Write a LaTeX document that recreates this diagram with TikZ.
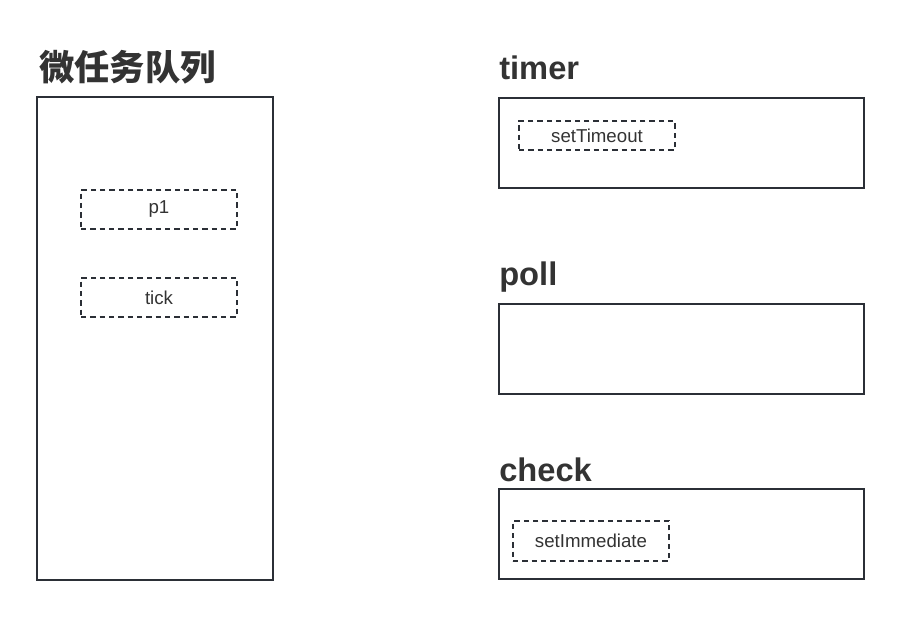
\documentclass[tikz,border=0pt]{standalone}
\usepackage{fontspec}
\setmainfont{Liberation Sans}
\newfontfamily\cjk{Noto Sans CJK SC}
\usetikzlibrary{positioning}
\definecolor{linegray}{HTML}{2B2F36}
\definecolor{textgray}{HTML}{333333}

\begin{document}
\begin{tikzpicture}[x=0.75pt, y=-0.75pt,
    queuebox/.style={draw=linegray, line width=1.5pt, inner sep=0pt},
    taskbox/.style={draw=linegray, line width=1.4pt, dash pattern=on 4pt off 3pt,
        inner sep=0pt, minimum width=117pt, text=textgray, font=\fontsize{14}{16}\selectfont},
    title/.style={anchor=base west, inner sep=0pt, text=textgray, font=\bfseries\fontsize{24.5}{28}\selectfont}]
    \useasboundingbox (0,0) rectangle (901,617);

    % Microtask queue
    \node[title, font=\cjk\bfseries\fontsize{26.5}{30}\selectfont] (microtitle) at (39,81) {微任务队列};
    \node[queuebox, minimum width=177pt, minimum height=362.25pt] (micro) at (155,338.5) {};
    \node[taskbox, minimum height=29.25pt] (p1) at (159,209.5) {p1};
    \node[taskbox, minimum height=29.25pt] (tick) at (159,297.5) {tick};

    % Phases
    \node[title] (timertitle) at (499,80) {timer};
    \node[queuebox, minimum width=273.75pt, minimum height=67.5pt] (timer) at (681.5,143) {};
    \node[taskbox, minimum height=21.75pt] (timeout) at (597,135.5) {setTimeout};

    \node[title] (polltitle) at (499,286) {poll};
    \node[queuebox, minimum width=273.75pt, minimum height=67.5pt] (poll) at (681.5,348.5) {};

    \node[title] (checktitle) at (499,481) {check};
    \node[queuebox, minimum width=273.75pt, minimum height=67.5pt] (check) at (681.5,534) {};
    \node[taskbox, minimum height=30pt] (immediate) at (591,541) {setImmediate};
\end{tikzpicture}
\end{document}
